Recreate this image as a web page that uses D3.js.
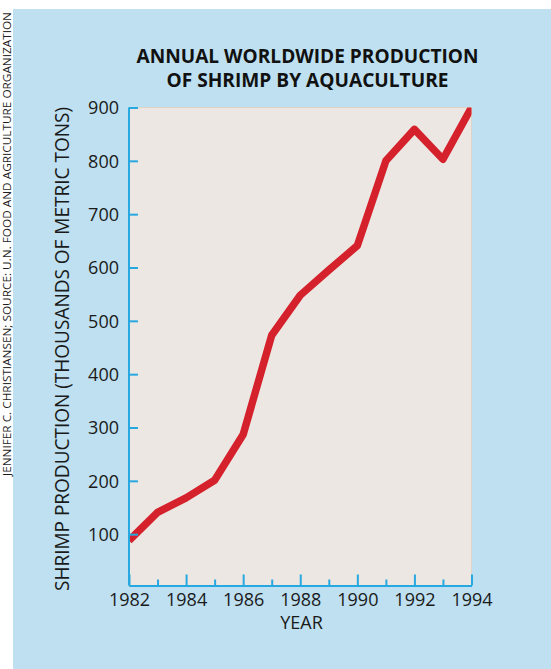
<!DOCTYPE html>
<html>
<head>
<meta charset="utf-8">
<script src="https://cdn.jsdelivr.net/npm/d3@7"></script>
<style>
  html, body { margin: 0; padding: 0; background: #ffffff; }
  svg { display: block; }
  text { font-family: "Open Sans", "Noto Sans", sans-serif; }
</style>
</head>
<body>
<svg id="chart" width="551" height="669"></svg>
<script>
// Annual worldwide shrimp production by aquaculture (thousands of metric tons)
const years = [1982, 1983, 1984, 1985, 1986, 1987, 1988, 1989, 1990, 1991, 1992, 1993, 1994];
const production = [88, 141, 168, 201, 287, 473, 548, 595, 641, 800, 859, 803, 900];
const yTicks = [100, 200, 300, 400, 500, 600, 700, 800, 900];
const majorYears = [1982, 1984, 1986, 1988, 1990, 1992, 1994];
const minorYears = [1983, 1985, 1987, 1989, 1991, 1993];

const titleLines = ["ANNUAL WORLDWIDE PRODUCTION", "OF SHRIMP BY AQUACULTURE"];
const yTitle = "SHRIMP PRODUCTION (THOUSANDS OF METRIC TONS)";
const xTitle = "YEAR";
const credit = "JENNIFER C. CHRISTIANSEN; SOURCE: U.N. FOOD AND AGRICULTURE ORGANIZATION";

const svg = d3.select("#chart");
const W = 551, H = 669;

const BLUE_BG = "#bee0f0";
const AXIS = "#27a8e0";
const PLOT_BG = "#ece7e3";
const RED = "#d4212c";
const INK = "#1a1a1a";

// panel background
svg.append("rect").attr("x", 0).attr("y", 0).attr("width", W).attr("height", H).attr("fill", "#ffffff");
svg.append("rect").attr("x", 13).attr("y", 9).attr("width", W - 13).attr("height", H - 9).attr("fill", BLUE_BG);

// plot frame
const plot = { left: 129, right: 471.5, top: 107.5, bottom: 585.5 };

const x = d3.scaleLinear().domain([1982, 1994]).range([plot.left, plot.right]);
const y = d3.scaleLinear().domain([0, 900]).range([587.5, 107.5]);

svg.append("rect")
  .attr("x", plot.left).attr("y", plot.top)
  .attr("width", plot.right - plot.left).attr("height", plot.bottom - plot.top)
  .attr("fill", PLOT_BG).attr("stroke", "#ddd4c7").attr("stroke-width", 1);

svg.append("clipPath").attr("id", "plot-clip")
  .append("rect")
  .attr("x", plot.left).attr("y", plot.top)
  .attr("width", plot.right - plot.left).attr("height", plot.bottom - plot.top);

// production line
const line = d3.line().x((d, i) => x(years[i])).y(d => y(d)).curve(d3.curveLinear);
svg.append("path")
  .datum(production)
  .attr("clip-path", "url(#plot-clip)")
  .attr("d", line)
  .attr("fill", "none")
  .attr("stroke", RED)
  .attr("stroke-width", 7.5)
  .attr("stroke-linejoin", "round")
  .attr("stroke-linecap", "butt");

// axes
function styleAxis(g) {
  g.select(".domain").attr("stroke", AXIS).attr("stroke-width", 2);
  g.selectAll(".tick line").attr("stroke", AXIS).attr("stroke-width", 2);
  g.selectAll(".tick text")
    .attr("fill", INK)
    .style("font-family", "'Open Sans', 'Noto Sans', sans-serif")
    .style("font-size", "18px");
}

const yAxis = d3.axisLeft(y).tickValues(yTicks).tickSizeInner(-9).tickSizeOuter(0).tickPadding(10)
  .tickFormat(d3.format("d"));
const gy = svg.append("g").attr("transform", `translate(${plot.left},0)`).call(yAxis);
gy.select(".domain").attr("d", `M0,${plot.top}V${plot.bottom}`);
styleAxis(gy);
gy.selectAll(".tick text").attr("dy", "0.36em");

const xMinor = d3.axisBottom(x).tickValues(minorYears).tickSizeInner(-6).tickSizeOuter(0).tickFormat("");
const gxm = svg.append("g").attr("transform", `translate(0,${plot.bottom})`).call(xMinor);
styleAxis(gxm);

const xMajor = d3.axisBottom(x).tickValues(majorYears).tickSizeInner(-11).tickSizeOuter(0).tickPadding(8)
  .tickFormat(d3.format("d"));
const gx = svg.append("g").attr("transform", `translate(0,${plot.bottom})`).call(xMajor);
styleAxis(gx);

// titles
const title = svg.append("text")
  .attr("text-anchor", "middle")
  .attr("fill", "#111111")
  .style("font-family", "'Open Sans', sans-serif")
  .style("font-weight", "700")
  .style("font-size", "19px");
title.append("tspan").attr("x", 307.5).attr("y", 63).text(titleLines[0])
  .attr("textLength", 342).attr("lengthAdjust", "spacingAndGlyphs");
title.append("tspan").attr("x", 307.5).attr("y", 87).text(titleLines[1])
  .attr("textLength", 282).attr("lengthAdjust", "spacingAndGlyphs");

svg.append("text")
  .attr("transform", `translate(69,349) rotate(-90)`)
  .attr("text-anchor", "middle")
  .attr("fill", INK)
  .style("font-size", "20px")
  .attr("textLength", 484).attr("lengthAdjust", "spacingAndGlyphs")
  .text(yTitle);

svg.append("text")
  .attr("x", 301.5).attr("y", 629)
  .attr("text-anchor", "middle")
  .attr("fill", INK)
  .style("font-size", "18px")
  .text(xTitle);

// credit line along the left edge
svg.append("text")
  .attr("transform", `translate(10.5,476) rotate(-90)`)
  .attr("text-anchor", "start")
  .attr("fill", "#1e1e1e")
  .style("font-size", "10.5px")
  .attr("textLength", 464).attr("lengthAdjust", "spacingAndGlyphs")
  .text(credit);
</script>
</body>
</html>
